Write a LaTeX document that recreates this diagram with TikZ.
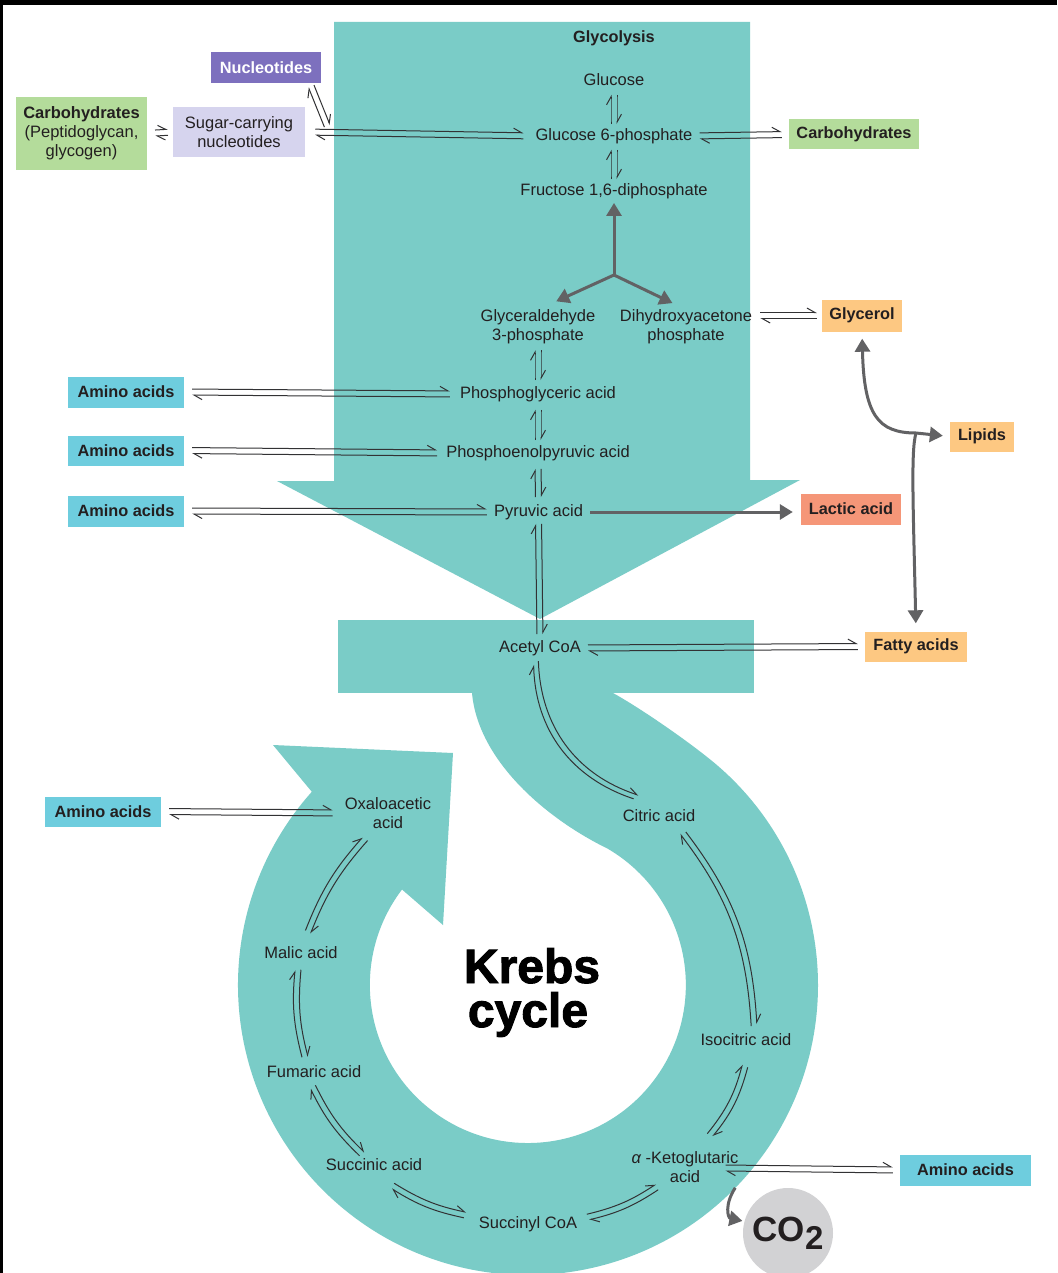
\documentclass[tikz,border=0pt]{standalone}
\usepackage{fontspec}
\setmainfont{Liberation Sans}
\newfontfamily\krebsfont[BoldFeatures={FakeBold=2}]{Liberation Sans}
\usetikzlibrary{arrows.meta,calc}

\definecolor{teal0}{RGB}{122,204,199}
\definecolor{ink}{RGB}{35,31,32}
\definecolor{wire}{RGB}{50,50,52}
\definecolor{fatgray}{RGB}{98,98,100}
\definecolor{aacyan}{RGB}{110,205,222}
\definecolor{carbgreen}{RGB}{180,220,155}
\definecolor{nucpurple}{RGB}{125,112,190}
\definecolor{suglav}{RGB}{214,212,238}
\definecolor{lipidorange}{RGB}{253,200,130}
\definecolor{lacsalmon}{RGB}{245,150,120}
\definecolor{co2gray}{RGB}{210,210,212}

\tikzset{
  met/.style={font=\fontsize{16.5}{19}\selectfont, text=ink, inner sep=0pt, align=center, yshift=-2pt},
  one/.style={text height=12pt, text depth=3.5pt},
  tag/.style={font=\bfseries\fontsize{16.3}{19}\selectfont, text=ink, inner sep=0pt, align=center, yshift=-1.5pt},
  bigword/.style={font=\krebsfont\bfseries\fontsize{48}{48}\selectfont, text=black, inner sep=0pt, anchor=base},
  eqline/.style={draw=wire, line width=1pt, -{Straight Barb[harpoon,length=8pt,width=9pt]}},
  fatarrow/.style={draw=fatgray, line width=3pt, -{Triangle[length=13pt,width=15pt]}},
}

% reversible reaction: two parallel half-barbed lines
% #1 bend angle, #2 from, #3 to, #4 gap at from, #5 gap at to
\newcommand\eqpair[5][0]{%
  \draw[eqline,shorten <=#4,shorten >=#5] ($(#2)!3pt!90:(#3)$) to[bend left=#1] ($(#3)!3pt!-90:(#2)$);
  \draw[eqline,shorten <=#5,shorten >=#4] ($(#3)!3pt!90:(#2)$) to[bend right=#1] ($(#2)!3pt!-90:(#3)$);}

\begin{document}
\begin{tikzpicture}[x=1pt,y=1pt]
\useasboundingbox (0,0) rectangle (1057,-1273);
\fill[white] (0,0) rectangle (1057,-1273);

% ---- teal pathway bands ----
% glycolysis arrow
\fill[teal0] (334,-22) -- (750,-22) -- (750,-480) -- (800,-480) -- (540,-619)
  -- (277,-481) -- (334,-481) -- cycle;
% acetyl CoA bar
\fill[teal0] (338,-620) rectangle (754,-693);
% Krebs cycle band with its arrowhead
\fill[teal0] (312,-792) -- (273,-745) -- (453,-753) -- (443,-925) -- (402,-889.5)
  arc[start angle=142.8, end angle=419.7, radius=158]
  .. controls (545,-818) and (478,-760) .. (472,-693)
  -- (472,-680) -- (613,-680) -- (613,-693)
  .. controls (635,-705) and (683,-737) .. (714.4,-762.9)
  arc[start angle=50, end angle=-221.8, radius=290]
  -- cycle;

% frame edges
\fill[black] (0,0) rectangle (1057,-5);
\fill[black] (0,0) rectangle (3,-1273);

% ---- glycolysis metabolites ----
\node[tag] (glyc) at (614,-37) {Glycolysis};
\node[met,one] (glu) at (614,-79) {Glucose};
\node[met,one] (g6p) at (614,-134) {Glucose 6-phosphate};
\node[met,one] (f16) at (614,-189) {Fructose 1,6-diphosphate};
\node[met] (g3p) at (538,-325) {Glyceraldehyde\\3-phosphate};
\node[met] (dhap) at (686,-325) {Dihydroxyacetone\\phosphate};
\node[met,one] (pga) at (538,-392) {Phosphoglyceric acid};
\node[met,one] (pep) at (538,-451) {Phosphoenolpyruvic acid};
\node[met,one] (pyr) at (538.5,-510) {Pyruvic acid};
\node[met,one] (acoa) at (540,-646) {Acetyl CoA};

% ---- Krebs cycle metabolites ----
\node[met] (oaa) at (388,-811) {Oxaloacetic\\acid};
\node[met,one] (cit) at (659,-815) {Citric acid};
\node[met,one] (mal) at (301,-952) {Malic acid};
\node[met,one] (iso) at (746,-1039) {Isocitric acid};
\node[met,one] (fum) at (314,-1071) {Fumaric acid};
\node[met,one] (suc) at (374,-1164) {Succinic acid};
\node[met] (akg) at (685,-1165) {{\itshape α} -Ketoglutaric\\acid};
\node[met,one] (sca) at (528,-1222) {Succinyl CoA};
\node[bigword] (krebs) at (532,-983) {Krebs};
\node[bigword] (cyc) at (528,-1027) {cycle};

% ---- side products ----
\node[tag, fill=nucpurple, text=white, minimum width=110pt, minimum height=31pt] (nuc) at (266,-66) {Nucleotides};
\node[met, fill=carbgreen, minimum width=131pt, minimum height=73pt] (carbL) at (81.5,-131.5)
  {\textbf{Carbohydrates}\\(Peptidoglycan,\\glycogen)};
\node[met, fill=suglav, minimum width=132pt, minimum height=50pt] (sugar) at (239,-130) {Sugar-carrying\\nucleotides};
\node[tag, fill=carbgreen, minimum width=130pt, minimum height=30pt] (carbR) at (854,-133) {Carbohydrates};
\node[tag, fill=lipidorange, minimum width=80pt, minimum height=32pt] (glyr) at (862,-314) {Glycerol};
\node[tag, fill=lipidorange, minimum width=64pt, minimum height=30pt] (lip) at (982,-435) {Lipids};
\node[tag, fill=lacsalmon, minimum width=100pt, minimum height=31pt] (lac) at (851,-507.5) {Lactic acid};
\node[tag, fill=lipidorange, minimum width=102pt, minimum height=30pt] (fat) at (916,-645) {Fatty acids};
\node[tag, fill=aacyan, minimum width=116pt, minimum height=31pt] (aa1) at (126,-390.5) {Amino acids};
\node[tag, fill=aacyan, minimum width=116pt, minimum height=30pt] (aa2) at (126,-449) {Amino acids};
\node[tag, fill=aacyan, minimum width=116pt, minimum height=31pt] (aa3) at (126,-509.5) {Amino acids};
\node[tag, fill=aacyan, minimum width=116pt, minimum height=30pt] (aa4) at (103,-810) {Amino acids};
\node[tag, fill=aacyan, minimum width=131pt, minimum height=31pt] (aa5) at (965.5,-1168.5) {Amino acids};
\node[circle, fill=co2gray, minimum size=90pt, inner sep=0pt, text=ink,
  font=\bfseries\fontsize{35}{35}\selectfont] (co2) at (788,-1233)
  {CO\raisebox{-8pt}{\fontsize{33}{33}\selectfont 2}};

% ---- helper points ----
\coordinate (nucfoot) at ($(nuc.south east)+(-10,-3)$);
\coordinate (sugjoin) at ($(sugar.east)+(22,6)$);
\coordinate (dhapout) at (dhap.east |- glyr.west);
\coordinate (akgout) at ($(akg.east |- aa5.west)+(-13,2)$);
\coordinate (k1a) at ($(acoa)+(-4,-15)$);
\coordinate (k1b) at ($(cit)+(-23,20)$);
\coordinate (k2a) at ($(cit)+(24,-16)$);
\coordinate (k2b) at ($(iso)+(8,16)$);
\coordinate (k3a) at ($(iso)+(-1,-25)$);
\coordinate (k3b) at ($(akg)+(25,32)$);
\coordinate (k4a) at ($(akg)+(-28,-20)$);
\coordinate (k4b) at ($(sca)+(60,7)$);
\coordinate (k5a) at ($(sca)+(-63,9)$);
\coordinate (k5b) at ($(suc)+(19,-20)$);
\coordinate (k6a) at ($(suc)+(-12,12)$);
\coordinate (k6b) at ($(fum)+(-1,-14)$);
\coordinate (k7a) at ($(fum)+(-9,16)$);
\coordinate (k7b) at ($(mal)+(-3,-16)$);
\coordinate (k8a) at ($(mal)+(7,22)$);
\coordinate (k8b) at ($(oaa)+(-23,-26)$);
\coordinate (split) at (614,-275);
\coordinate (lipj) at (916,-433);

% ---- reversible steps ----
\eqpair{glu.south}{g6p.north}{6pt}{4pt}
\eqpair{g6p.south}{f16.north}{6pt}{4pt}
\eqpair{g3p.south}{pga.north}{6pt}{6pt}
\eqpair{pga.south}{pep.north}{8pt}{5pt}
\eqpair{pep.south}{pyr.north}{8pt}{7pt}
\eqpair{pyr.south}{acoa.north}{4pt}{6pt}
\eqpair{aa1.east}{pga.west}{8pt}{10pt}
\eqpair{aa2.east}{pep.west}{8pt}{9pt}
\eqpair{aa3.east}{pyr.west}{8pt}{7pt}
\eqpair{aa4.east}{oaa.west}{8pt}{12pt}
\eqpair{carbL.east}{sugar.west}{8pt}{5pt}
\eqpair{sugar.east}{g6p.west}{10pt}{12pt}
\eqpair{nucfoot}{sugjoin}{0pt}{0pt}
\eqpair{g6p.east}{carbR.west}{7pt}{7pt}
\eqpair{dhapout}{glyr.west}{8pt}{5pt}
\eqpair{acoa.east}{fat.west}{7pt}{7pt}
\eqpair{akgout}{aa5.west}{0pt}{7pt}
\eqpair[-35]{k1a}{k1b}{0pt}{0pt}
\eqpair[17]{k2a}{k2b}{0pt}{0pt}
\eqpair[12]{k3a}{k3b}{0pt}{0pt}
\eqpair[10]{k4a}{k4b}{0pt}{0pt}
\eqpair[10]{k5a}{k5b}{0pt}{0pt}
\eqpair[10]{k6a}{k6b}{0pt}{0pt}
\eqpair[10]{k7a}{k7b}{0pt}{0pt}
\eqpair[10]{k8a}{k8b}{0pt}{0pt}

% ---- one-way steps ----
\draw[fatarrow, shorten >=4pt] (split) -- (f16.south);
\draw[fatarrow, shorten >=20pt] (split) -- (g3p.north);
\draw[fatarrow, shorten >=15pt] (split) -- (dhap.north);
\draw[fatarrow, shorten <=7pt, shorten >=8pt] (pyr.east) -- (pyr.east -| lac.west);
\draw[fatarrow, shorten >=7pt] (lipj) .. controls (878,-433) and (864,-415) .. (glyr.south);
\draw[fatarrow, shorten >=7pt] (lipj) -- (lip.west);
\draw[fatarrow, shorten >=8pt] (lipj) .. controls (911,-450) and (913,-500) .. (fat.north);
\draw[fatarrow, shorten <=6pt, shorten >=2pt] (akg.south east) .. controls (724,-1205) and (728,-1218) .. (co2.165);
\end{tikzpicture}
\end{document}
